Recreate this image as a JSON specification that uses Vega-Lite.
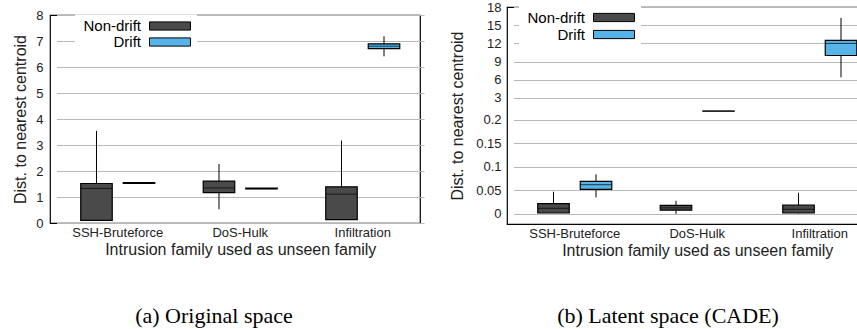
{
  "$schema": "https://vega.github.io/schema/vega-lite/v6.json",
  "padding": {"left": 12, "top": 0, "right": 0, "bottom": 0},
  "background": "white",
  "config": {
    "font": "Liberation Sans",
    "view": {"stroke": "black", "strokeWidth": 1.2},
    "axis": {
      "domain": false,
      "ticks": false,
      "labelOverlap": false,
      "labelFont": "Liberation Sans",
      "labelFontSize": 13,
      "labelColor": "#222222",
      "titleFont": "Liberation Sans",
      "titleFontSize": 16,
      "titleFontWeight": "normal",
      "titleColor": "#222222",
      "gridColor": "#b8b8b8",
      "gridOpacity": 1,
      "gridWidth": 1
    },
    "legend": {
      "title": null,
      "orient": "none",
      "fillColor": "white",
      "padding": 4,
      "symbolType": "M-4,-0.8H4V0.8H-4Z",
      "symbolSize": 105,
      "symbolStrokeColor": "black",
      "symbolStrokeWidth": 1,
      "symbolOffset": 83.5,
      "rowPadding": 1,
      "labelAlign": "right",
      "labelOffset": -36.5,
      "labelFont": "Liberation Sans",
      "labelFontSize": 15,
      "labelColor": "black",
      "labelLimit": 200
    },
    "title": {"font": "Liberation Serif", "fontSize": 22, "fontWeight": "normal", "color": "black"}
  },
  "datasets": {
    "orig": [
      {"family": "SSH-Bruteforce", "type": "Non-drift", "lower": 0.1, "q1": 0.1, "median": 1.33, "q3": 1.52, "upper": 3.54},
      {"family": "SSH-Bruteforce", "type": "Drift", "lower": 1.52, "q1": 1.52, "median": 1.53, "q3": 1.55, "upper": 1.55},
      {"family": "DoS-Hulk", "type": "Non-drift", "lower": 0.53, "q1": 1.17, "median": 1.35, "q3": 1.61, "upper": 2.27},
      {"family": "DoS-Hulk", "type": "Drift", "lower": 1.31, "q1": 1.31, "median": 1.32, "q3": 1.34, "upper": 1.34},
      {"family": "Infiltration", "type": "Non-drift", "lower": 0.13, "q1": 0.13, "median": 1.11, "q3": 1.39, "upper": 3.17},
      {"family": "Infiltration", "type": "Drift", "lower": 6.41, "q1": 6.71, "median": 6.8, "q3": 6.89, "upper": 7.18}
    ],
    "latent": [
      {"family": "SSH-Bruteforce", "type": "Non-drift", "lower": 0.002, "q1": 0.002, "median": 0.012, "q3": 0.022, "upper": 0.047},
      {"family": "SSH-Bruteforce", "type": "Drift", "lower": 0.035, "q1": 0.052, "median": 0.062, "q3": 0.069, "upper": 0.084},
      {"family": "DoS-Hulk", "type": "Non-drift", "lower": 0.0, "q1": 0.008, "median": 0.013, "q3": 0.018, "upper": 0.028},
      {"family": "DoS-Hulk", "type": "Drift", "lower": 0.84, "q1": 0.84, "median": 0.845, "q3": 0.85, "upper": 0.85},
      {"family": "Infiltration", "type": "Non-drift", "lower": 0.001, "q1": 0.002, "median": 0.01, "q3": 0.019, "upper": 0.045},
      {"family": "Infiltration", "type": "Drift", "lower": 6.4, "q1": 10.0, "median": 12.0, "q3": 12.5, "upper": 16.2}
    ]
  },
  "hconcat": [
    {
      "spacing": 0,
      "resolve": {"legend": {"fill": "independent"}, "scale": {"fill": "independent"}},
      "vconcat": [
        {
          "data": {"name": "orig"},
          "width": 370,
          "height": 1,
          "view": {"stroke": null},
          "mark": {"type": "text", "text": "", "fontSize": 0, "opacity": 0}
        },
        {
          "data": {"name": "orig"},
          "width": 370,
          "height": 208,
          "title": {"text": "(a) Original space", "orient": "bottom", "anchor": "middle", "frame": "group", "dx": -21, "offset": 49},
          "encoding": {
            "x": {"field": "family", "type": "nominal", "sort": ["SSH-Bruteforce", "DoS-Hulk", "Infiltration"],
                  "scale": {"type": "band", "range": [6.5, 374], "paddingInner": 0, "paddingOuter": 0},
                  "axis": {"title": "Intrusion family used as unseen family", "labelAngle": 0, "labelPadding": 3, "titlePadding": 2}},
            "xOffset": {"field": "type", "type": "nominal", "sort": ["Non-drift", "Drift"],
                        "scale": {"domain": ["Non-drift", "Drift"], "paddingInner": 0.259, "paddingOuter": 0.57}}
          },
          "layer": [
            {
              "mark": {"type": "rule", "color": "black", "strokeWidth": 1},
              "encoding": {
                "y": {"field": "lower", "type": "quantitative", "scale": {"domain": [0, 8], "nice": false, "zero": false},
                      "axis": {"title": "Dist. to nearest centroid", "values": [0, 1, 2, 3, 4, 5, 6, 7, 8], "format": "d", "labelPadding": 7, "titlePadding": 7}},
                "y2": {"field": "upper"}
              }
            },
            {
              "mark": {"type": "bar", "stroke": "black", "strokeWidth": 1.2},
              "encoding": {
                "y": {"field": "q1", "type": "quantitative",
                      "axis": {"title": "Dist. to nearest centroid", "values": [0, 1, 2, 3, 4, 5, 6, 7, 8], "format": "d", "labelPadding": 7, "titlePadding": 7}},
                "y2": {"field": "q3"},
                "fill": {"field": "type", "type": "nominal",
                         "scale": {"domain": ["Non-drift", "Drift"], "range": ["#4a4a4a", "#56B4E9"]},
                         "legend": {"legendX": 25, "legendY": -0.5, "rowPadding": -1}}
              }
            },
            {
              "mark": {"type": "tick", "color": "black", "thickness": 1, "size": 31},
              "encoding": {"y": {"field": "median", "type": "quantitative",
                      "axis": {"title": "Dist. to nearest centroid", "values": [0, 1, 2, 3, 4, 5, 6, 7, 8], "format": "d", "labelPadding": 7, "titlePadding": 7}}}
            }
          ]
        }
      ]
    },
    {
      "data": {"name": "latent"},
      "width": 362,
      "height": 217,
      "title": {"text": "(b) Latent space (CADE)", "orient": "bottom", "anchor": "middle", "frame": "group", "dx": -20, "offset": 48},
      "encoding": {
        "x": {"field": "family", "type": "nominal", "sort": ["SSH-Bruteforce", "DoS-Hulk", "Infiltration"],
              "scale": {"type": "band", "range": [6.5, 374], "paddingInner": 0, "paddingOuter": 0},
              "axis": {"title": "Intrusion family used as unseen family", "labelAngle": 0, "labelPadding": 3, "titlePadding": 2}},
        "xOffset": {"field": "type", "type": "nominal", "sort": ["Non-drift", "Drift"],
                    "scale": {"domain": ["Non-drift", "Drift"], "paddingInner": 0.259, "paddingOuter": 0.57}}
      },
      "layer": [
        {
          "mark": {"type": "rule", "color": "black", "strokeWidth": 1},
          "encoding": {
            "y": {"field": "lower", "type": "quantitative",
                  "scale": {"domain": [-0.0213, 0.2, 0.6, 18], "range": [217, 112.6, 105.5, 0], "nice": false, "zero": false},
                  "axis": {"title": "Dist. to nearest centroid", "values": [0, 0.05, 0.1, 0.15, 0.2, 3, 6, 9, 12, 15, 18], "format": "~g", "labelPadding": 6, "titlePadding": 10}},
            "y2": {"field": "upper"}
          }
        },
        {
          "mark": {"type": "bar", "stroke": "black", "strokeWidth": 1.2},
          "encoding": {
            "y": {"field": "q1", "type": "quantitative",
                  "axis": {"title": "Dist. to nearest centroid", "values": [0, 0.05, 0.1, 0.15, 0.2, 3, 6, 9, 12, 15, 18], "format": "~g", "labelPadding": 6, "titlePadding": 10}},
            "y2": {"field": "q3"},
            "fill": {"field": "type", "type": "nominal",
                     "scale": {"domain": ["Non-drift", "Drift"], "range": ["#4a4a4a", "#56B4E9"]},
                     "legend": {"legendX": 12, "legendY": -1, "rowPadding": 1}}
          }
        },
        {
          "mark": {"type": "tick", "color": "black", "thickness": 1, "size": 31},
          "encoding": {"y": {"field": "median", "type": "quantitative",
                  "axis": {"title": "Dist. to nearest centroid", "values": [0, 0.05, 0.1, 0.15, 0.2, 3, 6, 9, 12, 15, 18], "format": "~g", "labelPadding": 6, "titlePadding": 10}}}
        }
      ]
    }
  ],
  "spacing": 28,
  "resolve": {"scale": {"fill": "independent"}, "legend": {"fill": "independent"}}
}
